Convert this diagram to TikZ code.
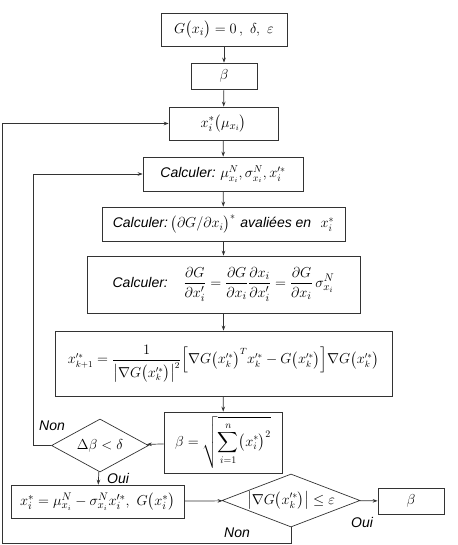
\documentclass[tikz,border=0pt]{standalone}
\usepackage{amsmath}
\usepackage{fontspec}
\newfontfamily\arialf{Liberation Sans}
\usetikzlibrary{shapes.geometric,arrows.meta}
\newcommand{\calc}{{\fontsize{14}{17}\selectfont\arialf\itshape Calculer:}}
\newcommand{\xp}[1]{x_{#1}^{\prime *}}
\begin{document}
\begin{tikzpicture}[x=1pt,y=-1pt,
  every node/.style={font=\fontsize{15.5}{18}\selectfont},
  boxs/.style={draw=black!80, line width=0.7pt, inner sep=0pt, minimum width=#1},
  dia/.style={draw=black!80, line width=0.7pt, diamond, inner sep=0pt},
  lbl/.style={font=\fontsize{14}{17}\selectfont\arialf\itshape, inner sep=0pt},
  conn/.style={draw=black!80, line width=0.7pt, -{Stealth[length=5pt,width=3.6pt]}},
  plain/.style={draw=black!80, line width=0.7pt}]
\useasboundingbox (0,0) rectangle (457,545);
\node[boxs=126pt, minimum height=33pt] (b1) at (224,29.5) {$G\bigl(x_i\bigr)=0\,,\ \delta,\ \varepsilon$};
\node[boxs=66pt, minimum height=26pt] (b2) at (224,76) {$\beta$};
\node[boxs=109pt, minimum height=33pt] (b3) at (223.5,123.5) {$x_i^{*}\bigl(\mu_{x_i}\bigr)$};
\node[boxs=160pt, minimum height=34pt, font=\fontsize{14.5}{17}\selectfont] (b4) at (223,174) {\calc\ $\mu_{x_i}^{N},\sigma_{x_i}^{N},\xp{i}$};
\node[boxs=243pt, minimum height=34pt, font=\fontsize{14.5}{17}\selectfont] (b5) at (223.5,224) {\calc$\,\bigl(\partial G/\partial x_i\bigr)^{*}$ {\fontsize{14}{17}\selectfont\arialf\itshape avaliées en}\ \ $x_i^{*}$};
\node[boxs=273pt, minimum height=57pt] (b6) at (223.5,284.5) {\calc\quad $\dfrac{\partial G}{\partial x_i^{\prime}}=\dfrac{\partial G}{\partial x_i}\dfrac{\partial x_i}{\partial x_i^{\prime}}=\dfrac{\partial G}{\partial x_i}\,\sigma_{x_i}^{N}$};
\node[boxs=337pt, minimum height=65pt, font=\fontsize{13.5}{16}\selectfont] (b7) at (223.5,363.5) {$\xp{k+1}=\dfrac{1}{\bigl|\nabla G\bigl(\xp{k}\bigr)\bigr|^{2}}\Bigl[\nabla G\bigl(\xp{k}\bigr)^{T}\xp{k}-G\bigl(\xp{k}\bigr)\Bigr]\nabla G\bigl(\xp{k}\bigr)$};
\node[boxs=118pt, minimum height=61pt, font=\fontsize{14.5}{17}\selectfont] (b8) at (223,442.5) {$\beta=\sqrt{\displaystyle\sum_{i=1}^{n}\bigl(x_i^{*}\bigr)^{2}}$};
\node[dia, minimum width=97pt, minimum height=53pt, aspect=1.83] (d9) at (100,445.5) {$\Delta\beta<\delta$};
\node[boxs=173pt, minimum height=33pt, font=\fontsize{15}{18}\selectfont] (b10) at (97.5,501.5) {$x_i^{*}=\mu_{x_i}^{N}-\sigma_{x_i}^{N}\xp{i},\ G\bigl(x_i^{*}\bigr)$};
\node[dia, minimum width=138pt, minimum height=53pt, aspect=2.6, font=\fontsize{14.5}{17}\selectfont] (d11) at (291,500.5) {$\bigl|\nabla G\bigl(\xp{k}\bigr)\bigr|\le\varepsilon$};
\node[boxs=66pt, minimum height=26pt] (b12) at (411,501) {$\beta$};
\coordinate (c1) at (33,445.5);
\coordinate (c2) at (291,543);
\coordinate (c3) at (2,543);
\coordinate (c4) at (2,123.5);
\draw[conn] (b1) -- (b2);
\draw[conn] (b2) -- (b3);
\draw[conn] (b3) -- (b4);
\draw[conn] (b4) -- (b5);
\draw[conn] (b5) -- (b6);
\draw[conn] (b6) -- (b7);
\draw[conn] (b7) -- (b8);
\draw[conn] (b8) -- (d9);
\draw[conn] (d9) -- (b10);
\draw[conn] (b10) -- (d11);
\draw[conn] (d11) -- (b12);
\draw[conn] (d9.west) -- (c1) |- (b4.west);
\draw[conn] (d11.south) -- (c2) -- (c3) -- (c4) -- (b3.west);
\node[lbl] (n1) at (52,426) {Non};
\node[lbl] (o1) at (118,478) {Oui};
\node[lbl] (n2) at (237,533) {Non};
\node[lbl] (o2) at (362,522) {Oui};
\end{tikzpicture}
\end{document}
